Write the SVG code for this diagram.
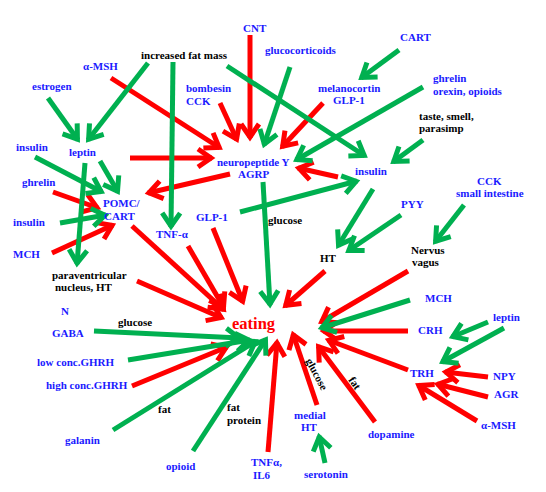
<svg xmlns="http://www.w3.org/2000/svg" width="546" height="492" viewBox="0 0 546 492">
<style>
text{font-family:"Liberation Serif","Times New Roman",serif;font-weight:bold;font-size:11px}
.b{fill:#1a1aff}
.k{fill:#000}
.e{fill:#ff0000;font-size:16.5px}
.r{stroke:#ff0000;stroke-width:5;fill:none;marker-end:url(#ar)}
.g{stroke:#00b050;stroke-width:5;fill:none;marker-end:url(#ag)}
</style>
<defs>
<marker id="ar" markerUnits="userSpaceOnUse" markerWidth="30" markerHeight="30" refX="0" refY="0" orient="auto" overflow="visible">
<path d="M-14,-9 L-1,0 L-14,9" fill="none" stroke="#ff0000" stroke-width="5"/>
</marker>
<marker id="ag" markerUnits="userSpaceOnUse" markerWidth="30" markerHeight="30" refX="0" refY="0" orient="auto" overflow="visible">
<path d="M-14,-9 L-1,0 L-14,9" fill="none" stroke="#00b050" stroke-width="5"/>
</marker>
</defs>
<rect width="546" height="492" fill="#fff"/>
<g id="connectors">
<line class="r" x1="111" y1="78" x2="220" y2="148"/>
<line class="r" x1="220" y1="103" x2="237" y2="140"/>
<line class="r" x1="250" y1="35" x2="250" y2="138"/>
<line class="r" x1="323" y1="103" x2="282" y2="147"/>
<line class="r" x1="130" y1="158" x2="212" y2="158"/>
<line class="r" x1="230" y1="174" x2="148" y2="193"/>
<line class="r" x1="338" y1="177" x2="298" y2="168"/>
<line class="r" x1="53" y1="192" x2="98" y2="208"/>
<line class="r" x1="52" y1="253" x2="113" y2="225"/>
<line class="r" x1="132" y1="226" x2="224" y2="310"/>
<line class="r" x1="188" y1="246" x2="224" y2="308"/>
<line class="r" x1="137" y1="281" x2="222" y2="318"/>
<line class="r" x1="213" y1="228" x2="243" y2="302"/>
<line class="r" x1="325" y1="271" x2="285" y2="306"/>
<line class="r" x1="408" y1="271" x2="321" y2="322"/>
<line class="r" x1="408" y1="331" x2="323" y2="331"/>
<line class="r" x1="408" y1="370" x2="328" y2="340"/>
<line class="r" x1="375" y1="422" x2="318" y2="346"/>
<line class="r" x1="317" y1="405" x2="293" y2="334"/>
<line class="r" x1="268" y1="452" x2="277" y2="342"/>
<line class="r" x1="132" y1="386" x2="227" y2="347"/>
<line class="r" x1="488" y1="377" x2="445" y2="372"/>
<line class="r" x1="488" y1="397" x2="437" y2="384"/>
<line class="r" x1="477" y1="421" x2="418" y2="385"/>
<line class="g" x1="290" y1="67" x2="264" y2="145"/>
<line class="g" x1="227" y1="66" x2="365" y2="156"/>
<line class="g" x1="399" y1="50" x2="361" y2="78"/>
<line class="g" x1="423" y1="87" x2="296" y2="160"/>
<line class="g" x1="423" y1="140" x2="393" y2="162"/>
<line class="g" x1="173" y1="62" x2="171" y2="227"/>
<line class="g" x1="148" y1="63" x2="88" y2="140"/>
<line class="g" x1="48" y1="98" x2="78" y2="140"/>
<line class="g" x1="240" y1="212" x2="357" y2="181"/>
<line class="g" x1="263" y1="182" x2="270" y2="305"/>
<line class="g" x1="373" y1="189" x2="338" y2="246"/>
<line class="g" x1="401" y1="215" x2="348" y2="251"/>
<line class="g" x1="464" y1="205" x2="435" y2="242"/>
<line class="g" x1="410" y1="300" x2="321" y2="328"/>
<line class="g" x1="325" y1="463" x2="319" y2="436"/>
<line class="g" x1="488" y1="322" x2="452" y2="337"/>
<line class="g" x1="504" y1="328" x2="442" y2="362"/>
<line class="g" x1="35" y1="157" x2="102" y2="192"/>
<line class="g" x1="100" y1="161" x2="118" y2="192"/>
<line class="g" x1="85" y1="163" x2="77" y2="264"/>
<line class="g" x1="60" y1="223" x2="106" y2="215"/>
<line class="g" x1="94" y1="331" x2="240" y2="338"/>
<line class="g" x1="128" y1="360" x2="250" y2="340"/>
<line class="g" x1="113" y1="430" x2="256" y2="341"/>
<line class="g" x1="193" y1="451" x2="266" y2="339"/>
</g>
<g id="eating"><text class="e" x="232" y="329">eating</text></g>
<g id="cnt"><text class="b" x="243" y="32">CNT</text></g>
<g id="glucocorticoids"><text class="b" x="265" y="54">glucocorticoids</text></g>
<g id="cart-top"><text class="b" x="400" y="41">CART</text></g>
<g id="fatmass"><text class="k" x="141" y="59">increased fat mass</text></g>
<g id="amsh-top"><text class="b" x="83" y="70">α-MSH</text></g>
<g id="estrogen"><text class="b" x="32" y="90">estrogen</text></g>
<g id="bombesin"><text class="b" x="186" y="92">bombesin</text><text class="b" x="186" y="105">CCK</text></g>
<g id="melanocortin"><text class="b" x="318" y="92">melanocortin</text><text class="b" x="333" y="104">GLP-1</text></g>
<g id="ghrelin-top"><text class="b" x="433" y="82">ghrelin</text><text class="b" x="433" y="95">orexin, opioids</text></g>
<g id="taste"><text class="k" x="419" y="120">taste, smell,</text><text class="k" x="419" y="132">parasimp</text></g>
<g id="insulin-1"><text class="b" x="16" y="151">insulin</text></g>
<g id="leptin"><text class="b" x="69" y="156">leptin</text></g>
<g id="npy"><text class="b" x="217" y="166">neuropeptide Y</text><text class="b" x="238" y="178">AGRP</text></g>
<g id="insulin-r"><text class="b" x="355" y="175">insulin</text></g>
<g id="ghrelin-l"><text class="b" x="22" y="186">ghrelin</text></g>
<g id="pomc"><text class="b" x="103" y="207">POMC/</text><text class="b" x="104" y="220">CART</text></g>
<g id="insulin-2"><text class="b" x="13" y="226">insulin</text></g>
<g id="mch-l"><text class="b" x="13" y="258">MCH</text></g>
<g id="glp1"><text class="b" x="196" y="221">GLP-1</text></g>
<g id="tnfa"><text class="b" x="156" y="238">TNF-α</text></g>
<g id="glucose-mid"><text class="k" x="268" y="224">glucose</text></g>
<g id="pyy"><text class="b" x="401" y="208">PYY</text></g>
<g id="cck"><text class="b" x="477" y="185">CCK</text><text class="b" x="456" y="197">small intestine</text></g>
<g id="ht"><text class="k" x="320" y="262">HT</text></g>
<g id="vagus"><text class="k" x="411" y="254">Nervus</text><text class="k" x="412" y="266">vagus</text></g>
<g id="pvn"><text class="k" x="52" y="279">paraventricular</text><text class="k" x="55" y="291">nucleus, HT</text></g>
<g id="n"><text class="b" x="61" y="315">N</text></g>
<g id="glucose-l"><text class="k" x="118" y="326">glucose</text></g>
<g id="gaba"><text class="b" x="52" y="337">GABA</text></g>
<g id="mch-r"><text class="b" x="425" y="302">MCH</text></g>
<g id="leptin-r"><text class="b" x="493" y="321">leptin</text></g>
<g id="crh"><text class="b" x="418" y="334">CRH</text></g>
<g id="trh"><text class="b" x="410" y="377">TRH</text></g>
<g id="npy-r"><text class="b" x="493" y="380">NPY</text></g>
<g id="agr"><text class="b" x="494" y="398">AGR</text></g>
<g id="amsh-r"><text class="b" x="481" y="429">α-MSH</text></g>
<g id="lowghrh"><text class="b" x="37" y="366">low conc.GHRH</text></g>
<g id="highghrh"><text class="b" x="46" y="389">high conc.GHRH</text></g>
<g id="fat-l"><text class="k" x="158" y="413">fat</text></g>
<g id="fatprotein"><text class="k" x="227" y="411">fat</text><text class="k" x="227" y="424">protein</text></g>
<g id="galanin"><text class="b" x="65" y="444">galanin</text></g>
<g id="opioid"><text class="b" x="166" y="470">opioid</text></g>
<g id="tnfil6"><text class="b" x="251" y="466">TNFα,</text><text class="b" x="253" y="479">IL6</text></g>
<g id="medialht"><text class="b" x="294" y="419">medial</text><text class="b" x="301" y="431">HT</text></g>
<g id="dopamine"><text class="b" x="368" y="438">dopamine</text></g>
<g id="serotonin"><text class="b" x="304" y="478">serotonin</text></g>
<g id="glucose-rot"><text class="k" x="0" y="4" text-anchor="middle" transform="translate(317,374) rotate(62)">glucose</text></g>
<g id="fat-rot"><text class="k" x="0" y="4" text-anchor="middle" transform="translate(355,383) rotate(55)">fat</text></g>
</svg>
